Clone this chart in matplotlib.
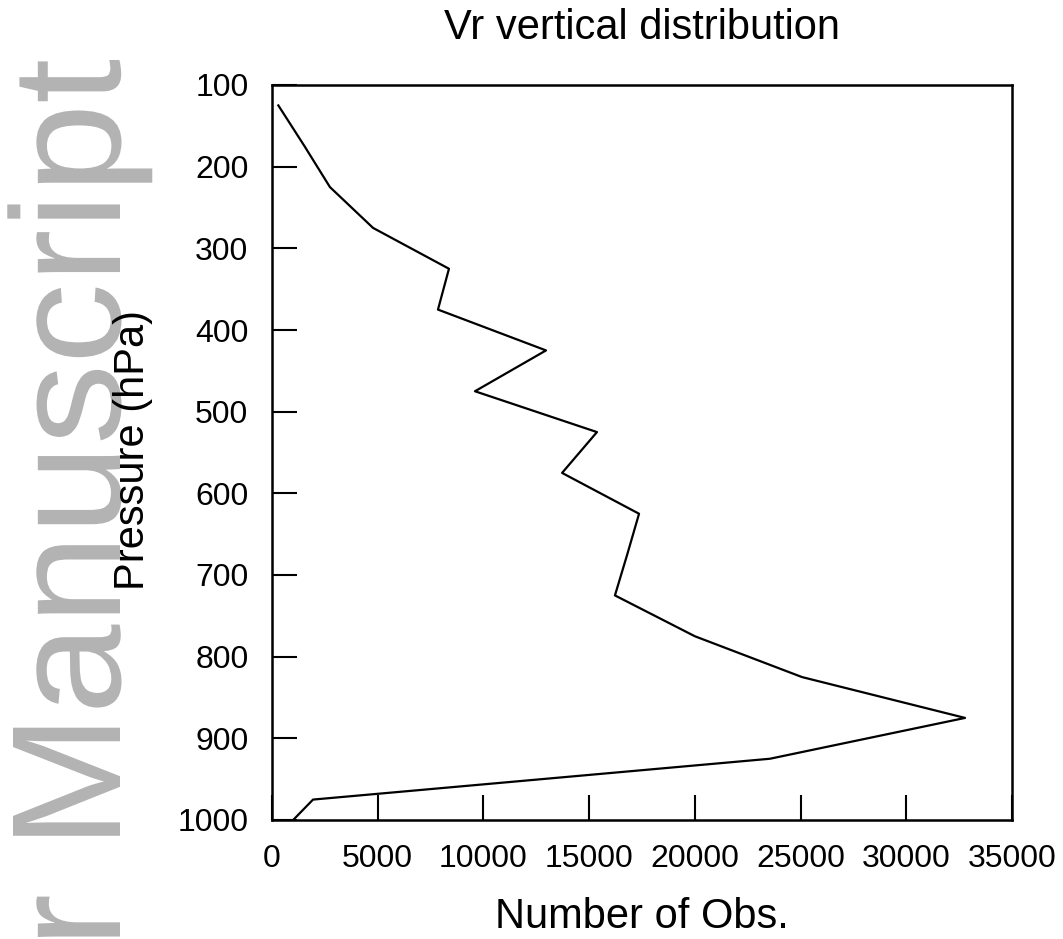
import matplotlib
matplotlib.use("Agg")
from matplotlib import pyplot as plt
from matplotlib.textpath import TextPath
from matplotlib.patches import PathPatch
from matplotlib.font_manager import FontProperties
from matplotlib.transforms import Affine2D, IdentityTransform

# Vr observation counts per pressure level
pressure = [125, 175, 225, 275, 325, 375, 425, 475, 525, 575, 625, 675, 725,
            775, 825, 875, 925, 950, 975, 1000]
n_obs = [300, 1540, 2740, 4780, 8370, 7850, 12960, 9600, 15370, 13720, 17360,
         16800, 16220, 20000, 25070, 32780, 23550, 12750, 1940, 1000]

xticks = [0, 5000, 10000, 15000, 20000, 25000, 30000, 35000]
yticks = [100, 200, 300, 400, 500, 600, 700, 800, 900, 1000]

plt.rcParams['font.family'] = ['Liberation Sans', 'DejaVu Sans']

fig = plt.figure(figsize=(10.63, 9.39), dpi=100)

# light grey watermark on the left edge (stretched a bit along the text)
fp = FontProperties(family='Liberation Sans')
full = TextPath((0, 0), "Author Manuscript", size=100, prop=fp)
tail = TextPath((0, 0), "r Manuscript", size=100, prop=fp).get_extents()
cap = TextPath((0, 0), "M", size=100, prop=fp).get_extents().y1
sy = 107 / cap
sx = 877 / (tail.x1 - tail.x0)
x_end = full.get_extents().x1
tr = Affine2D().scale(sx, sy).rotate_deg(90).translate(120, 879 - x_end * sx)
wm = PathPatch(tr.transform_path(full), facecolor='#b3b3b3', edgecolor='none',
               transform=IdentityTransform(), zorder=0)
fig.add_artist(wm)

ax = fig.add_axes([272 / 1063, 1 - 820 / 939, 740 / 1063, 735 / 939])
ax.patch.set_alpha(0)
ax.plot(n_obs, pressure, color='black', lw=1.6)

ax.set_xlim(0, 35000)
ax.set_ylim(1000, 100)
ax.set_xticks(xticks)
ax.set_yticks(yticks)
ax.tick_params(direction='in', length=18, width=1.5, labelsize=23, pad=17,
               top=False, right=False)
for s in ax.spines.values():
    s.set_linewidth(1.8)

ax.set_title("Vr vertical distribution", fontsize=30, pad=33)
ax.set_xlabel("Number of Obs.", fontsize=30, labelpad=17)
ax.set_ylabel("Pressure (hPa)", fontsize=30)
ax.yaxis.set_label_coords(-0.161, 0.503)

plt.savefig("out.png", dpi=100)
